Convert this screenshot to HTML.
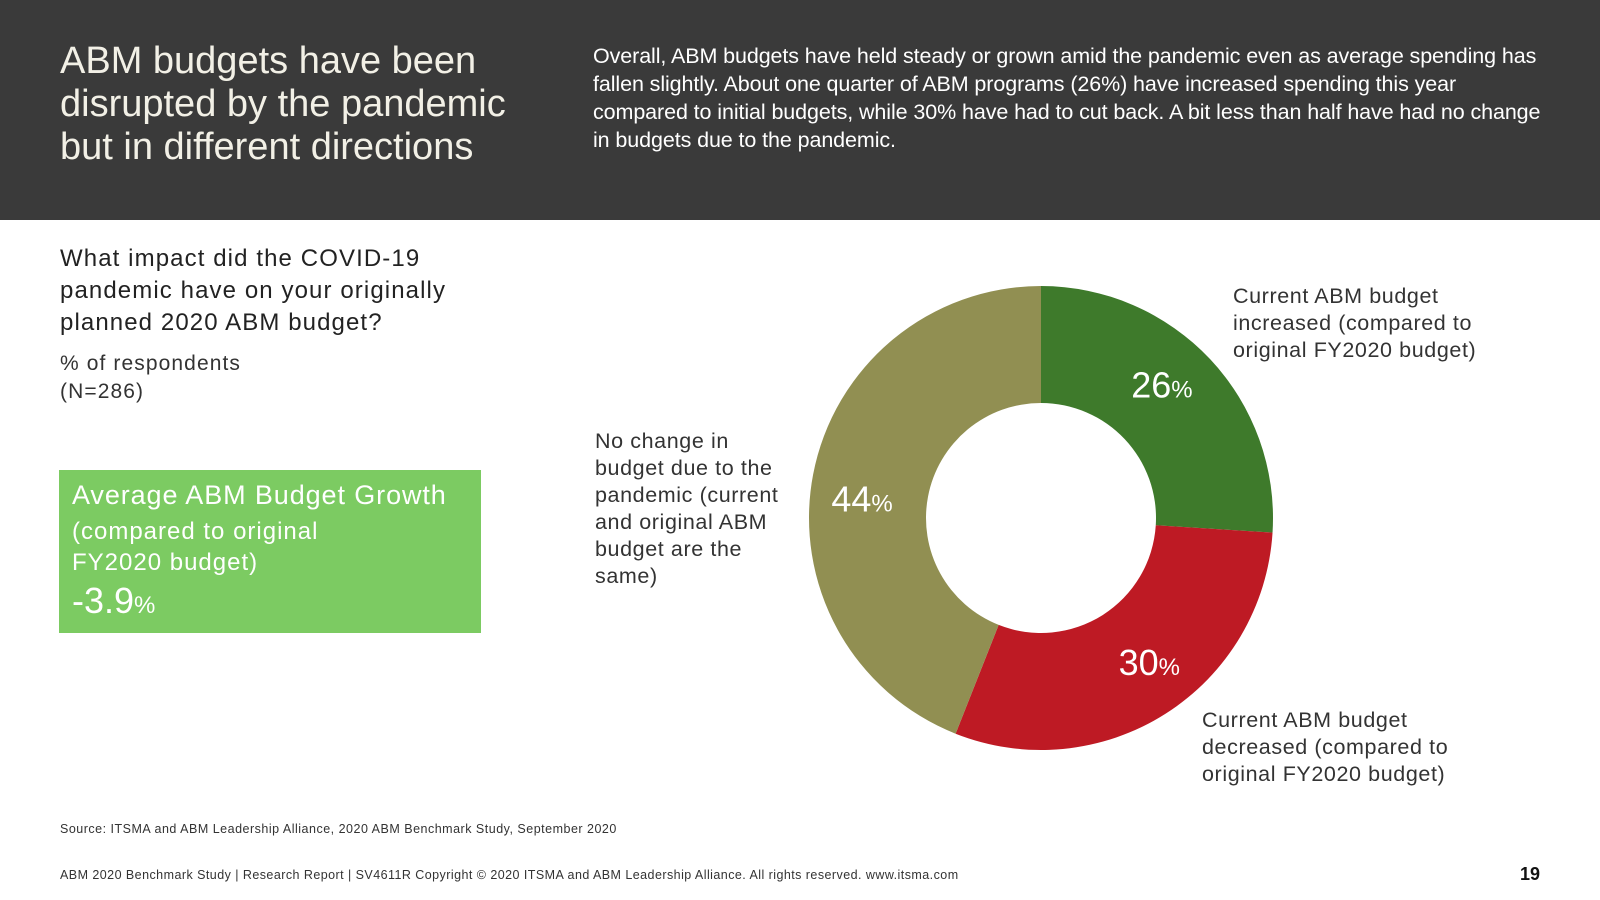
<!DOCTYPE html>
<html><head><meta charset="utf-8"><style>
body{margin:0;width:1600px;height:900px;position:relative;background:#fff;font-family:"Liberation Sans",sans-serif;overflow:hidden}
.a{position:absolute;margin:0}
</style></head><body>
<div class="a" style="left:0;top:0;width:1600px;height:220px;background:#3a3a3a"></div>
<div class="a" style="left:60px;top:40px;color:#f2f0e6;font-size:38px;line-height:43px">ABM budgets have been<br>disrupted by the pandemic<br>but in different directions</div>
<div class="a" style="left:593px;top:42px;color:#fff;font-size:21.5px;line-height:28px;letter-spacing:-0.1px;white-space:nowrap">Overall, ABM budgets have held steady or grown amid the pandemic even as average spending has<br>fallen slightly. About one quarter of ABM programs (26%) have increased spending this year<br>compared to initial budgets, while 30% have had to cut back. A bit less than half have had no change<br>in budgets due to the pandemic.</div>
<div class="a" style="left:60px;top:243px;color:#222;font-size:24px;line-height:32px;letter-spacing:1.1px">What impact did the COVID-19<br>pandemic have on your originally<br>planned 2020 ABM budget?</div>
<div class="a" style="left:60px;top:350px;color:#333;font-size:21px;line-height:28px;letter-spacing:1.1px">% of respondents<br>(N=286)</div>
<div class="a" style="left:59px;top:470px;width:422px;height:163px;background:#7ccb62;color:#fff">
<div class="a" style="left:13px;top:10px;font-size:27px;letter-spacing:0.9px">Average ABM Budget Growth</div>
<div class="a" style="left:13px;top:46px;font-size:24px;line-height:31px;letter-spacing:1px">(compared to original<br>FY2020 budget)</div>
<div class="a" style="left:13px;top:110px;font-size:36px">-3.9<span style="font-size:24px">%</span></div>
</div>
<svg class="a" style="left:0;top:0" width="1600" height="900" id="chart"></svg>
<div class="a" style="left:1233px;top:283px;color:#333;font-size:21.5px;line-height:27px;letter-spacing:0.6px">Current ABM budget<br>increased (compared to<br>original FY2020 budget)</div>
<div class="a" style="left:1202px;top:707px;color:#333;font-size:21.5px;line-height:27px;letter-spacing:0.6px">Current ABM budget<br>decreased (compared to<br>original FY2020 budget)</div>
<div class="a" style="left:595px;top:428px;color:#333;font-size:21.5px;line-height:27px;letter-spacing:0.6px">No change in<br>budget due to the<br>pandemic (current<br>and original ABM<br>budget are the<br>same)</div>
<div class="a" style="left:60px;top:822px;color:#333;font-size:12.5px;letter-spacing:0.5px">Source: ITSMA and ABM Leadership Alliance, 2020 ABM Benchmark Study, September 2020</div>
<div class="a" style="left:60px;top:868px;color:#333;font-size:12.5px;letter-spacing:0.45px">ABM 2020 Benchmark Study | Research Report | SV4611R Copyright © 2020 ITSMA and ABM Leadership Alliance. All rights reserved. www.itsma.com</div>
<div class="a" style="left:1520px;top:864px;color:#111;font-size:18px;font-weight:bold">19</div>
<script>
const categories=["Increased","Decreased","No change"];
const values=[26,30,44];
const colors=["#3e7a2b","#be1a24","#918f52"];
const svg=document.getElementById('chart');
const cx=1041,cy=518,R=232,r=115,ns="http://www.w3.org/2000/svg";
const total=values.reduce((a,b)=>a+b,0);
function pt(a,rad){return [cx+rad*Math.sin(a),cy-rad*Math.cos(a)];}
let start=0;
values.forEach((v,i)=>{
 const end=start+v/total*2*Math.PI;
 const [x1,y1]=pt(start,R),[x2,y2]=pt(end,R),[x3,y3]=pt(end,r),[x4,y4]=pt(start,r);
 const lg=(end-start)>Math.PI?1:0;
 const p=document.createElementNS(ns,'path');
 p.setAttribute('d',`M${x1},${y1}A${R},${R} 0 ${lg} 1 ${x2},${y2}L${x3},${y3}A${r},${r} 0 ${lg} 0 ${x4},${y4}Z`);
 p.setAttribute('fill',colors[i]);
 
 
 svg.appendChild(p);
 const mid=(start+end)/2-0.08;const [tx,ty]=pt(mid,180);
 const t=document.createElementNS(ns,'text');
 t.setAttribute('x',tx);t.setAttribute('y',ty+13);t.setAttribute('text-anchor','middle');
 t.setAttribute('fill','#fff');t.setAttribute('font-size','36');t.setAttribute('font-family','Liberation Sans, sans-serif');
 t.innerHTML=v+'<tspan font-size="24">%</tspan>';
 
 
 svg.appendChild(t);
 start=end;
});
</script>
</body></html>
